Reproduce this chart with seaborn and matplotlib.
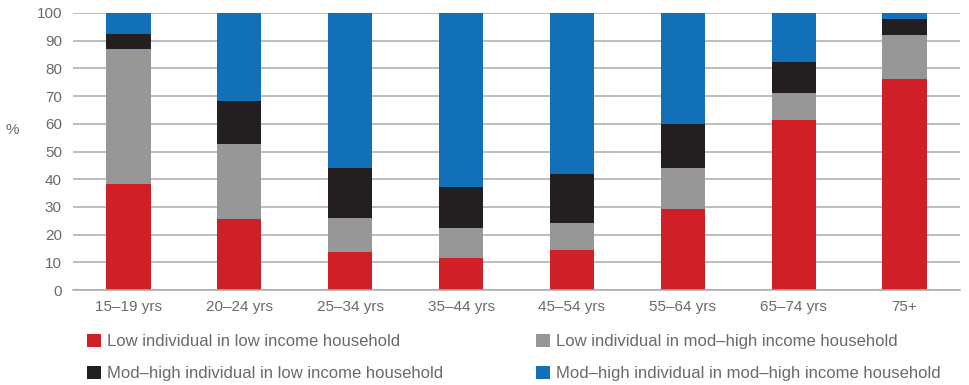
import matplotlib
matplotlib.use("Agg")
import matplotlib.pyplot as plt
import seaborn as sns
import pandas as pd
import numpy as np
from matplotlib.patches import Patch
from matplotlib.ticker import FixedLocator

categories = ["15–19 yrs", "20–24 yrs", "25–34 yrs", "35–44 yrs",
              "45–54 yrs", "55–64 yrs", "65–74 yrs", "75+"]
series_names = ["Low individual in low income household",
                "Low individual in mod–high income household",
                "Mod–high individual in low income household",
                "Mod–high individual in mod–high income household"]
low_low = [38.4, 25.7, 13.7, 11.6, 14.5, 29.3, 61.4, 76.3]
low_modhigh = [48.7, 27.1, 12.3, 10.8, 9.7, 14.8, 9.8, 15.9]
modhigh_low = [5.4, 15.5, 18.1, 14.8, 17.7, 15.9, 11.2, 5.6]
modhigh_modhigh = [7.5, 31.7, 55.9, 62.8, 58.1, 40.0, 17.6, 2.2]
yticks = list(range(0, 101, 10))

colors = ["#CF2027", "#979797", "#231F20", "#1170B8"]
series_values = [low_low, low_modhigh, modhigh_low, modhigh_modhigh]

sns.set_style("white")
plt.rcParams["font.family"] = ["Liberation Sans", "DejaVu Sans"]
text_color = "#6a6a6a"

fig = plt.figure(figsize=(9.7, 3.85), dpi=100)
ax = fig.add_axes([73 / 970, 1 - 290 / 385, (960 - 73) / 970, (290 - 13) / 385])

for y in yticks:
    ax.axhline(y, color="#ABABAB", lw=1.1, zorder=0)

bottom = np.zeros(len(categories))
for name, vals, col in zip(series_names, series_values, colors):
    df = pd.DataFrame({"age": categories, "value": vals})
    sns.barplot(data=df, x="age", y="value", order=categories, color=col,
                width=0.4, bottom=bottom, ax=ax, saturation=1, linewidth=0,
                zorder=2)
    bottom = bottom + np.array(vals)

ax.set_xlim(-0.5, len(categories) - 0.5)
ax.set_ylim(0, 100)
ax.set_yticks(yticks)
ax.set_yticklabels([str(t) for t in yticks])
for s in ["top", "right", "left"]:
    ax.spines[s].set_visible(False)
ax.spines["bottom"].set_color("#ABABAB")
ax.spines["bottom"].set_linewidth(1.1)
ax.tick_params(axis="y", length=0, labelsize=11, labelcolor=text_color, pad=8)
ax.tick_params(axis="x", which="major", length=0, labelsize=11, labelcolor=text_color, pad=7)
ax.xaxis.set_minor_locator(FixedLocator(np.arange(-0.5, len(categories), 1.0)))
ax.tick_params(axis="x", which="minor", length=5, color="#ABABAB", width=1, direction="out")
ax.set_xlabel("")
ax.set_ylabel("%", rotation=0, fontsize=11, color=text_color, va="center", ha="center")
ax.yaxis.set_label_coords(-0.068, 0.578)

handles = [Patch(facecolor=c, edgecolor="none") for c in colors]
order = [0, 2, 1, 3]
leg = fig.legend([handles[i] for i in order], [series_names[i] for i in order],
                 ncol=2, loc="upper left", bbox_to_anchor=(87 / 970, 1 - 334 / 385),
                 frameon=False, fontsize=12, handlelength=0.84, handleheight=0.84,
                 handletextpad=0.36, columnspacing=5.55, labelspacing=1.0,
                 borderaxespad=0, borderpad=0)
for t in leg.get_texts():
    t.set_color(text_color)

fig.savefig("out.png", dpi=100)
